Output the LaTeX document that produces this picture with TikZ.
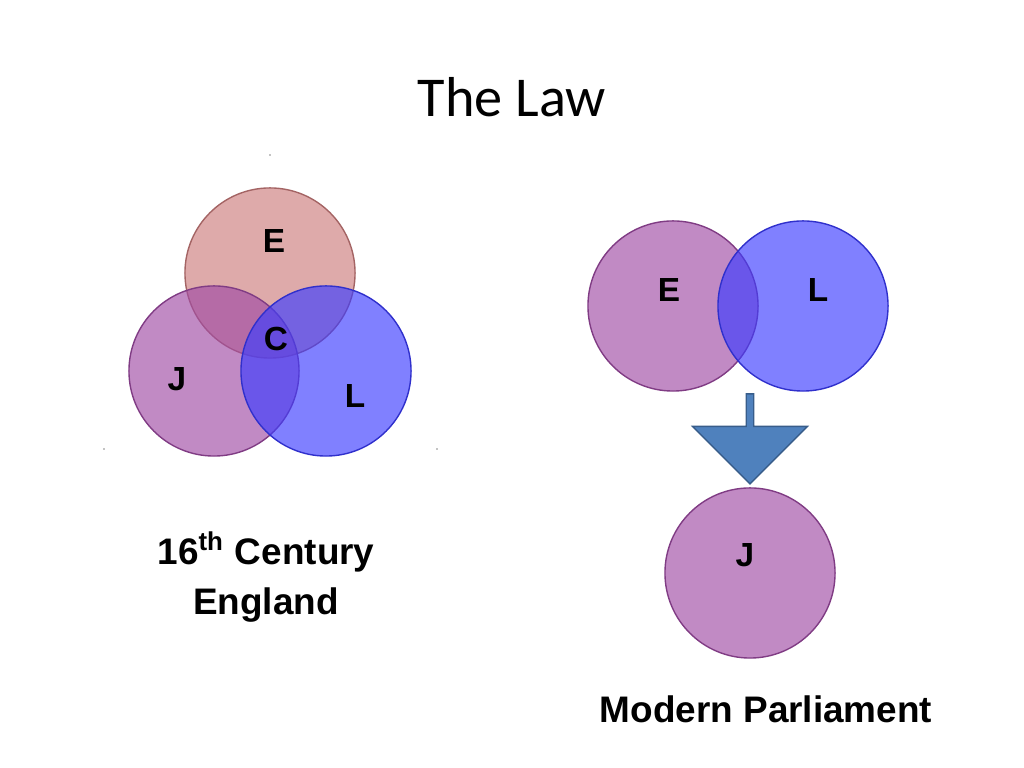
\documentclass[tikz,border=0pt]{standalone}
\usepackage{fontspec}
\setmainfont{Liberation Sans}
\newfontfamily\titlefont{Carlito}
\usetikzlibrary{shapes.arrows}
\definecolor{rosefill}{RGB}{205,125,125}
\definecolor{plumfill}{RGB}{160,75,165}
\definecolor{bluefill}{RGB}{60,60,255}
\definecolor{arrowfill}{RGB}{79,129,189}
\definecolor{arrowline}{RGB}{56,93,138}
\tikzset{
  venn/.style={circle,minimum size=1.7cm,inner sep=0pt,fill opacity=0.65,draw opacity=1},
  lbl/.style={font=\bfseries\fontsize{9.5}{11}\selectfont},
}
\begin{document}
\begin{tikzpicture}[x=0.01cm,y=-0.01cm]
				\useasboundingbox (0,0) rectangle (1024,768);
				
				\node[font=\titlefont\fontsize{16}{19}\selectfont] (title) at (512,97) {The Law};
				
				% sixteenth century
				\node[venn,fill=rosefill,draw=rosefill!80!black] (eold) at (270,273) {};
				\node[venn,fill=plumfill,draw=plumfill!80!black] (jold) at (214,371) {};
				\node[venn,fill=bluefill,draw=bluefill!80!black] (lold) at (326,371) {};
				\node[lbl] (eoldt) at (274,241) {E};
				\node[lbl] (coldt) at (276,339) {C};
				\node[lbl] (joldt) at (177,379) {J};
				\node[lbl] (loldt) at (355,396) {L};
				\node[lbl,align=center,font=\bfseries\fontsize{10.5}{14}\selectfont] (era) at (266,577) {16\textsuperscript{th} Century\\England};
				\fill (270,155) circle (0.6);
				\fill (104,449) circle (0.6);
				\fill (437,449) circle (0.6);
				
				% modern
				\node[venn,fill=plumfill,draw=plumfill!80!black] (enew) at (673,306) {};
				\node[venn,fill=bluefill,draw=bluefill!80!black] (lnew) at (803,306) {};
				\node[venn,fill=plumfill,draw=plumfill!80!black] (jnew) at (750,573) {};
				\node[lbl] (enewt) at (669,290) {E};
				\node[lbl] (lnewt) at (818,290) {L};
				\node[lbl] (jnewt) at (745,555) {J};
				\node[single arrow,shape border rotate=270,fill=arrowfill,draw=arrowline,
				  minimum width=1.15cm,single arrow head extend=0.1cm,minimum height=0.9cm,inner sep=0pt] (down) at (750,437) {};
				\node[lbl,font=\bfseries\fontsize{10.5}{13}\selectfont] (parl) at (766,709) {Modern Parliament};
			\end{tikzpicture}
\end{document}
